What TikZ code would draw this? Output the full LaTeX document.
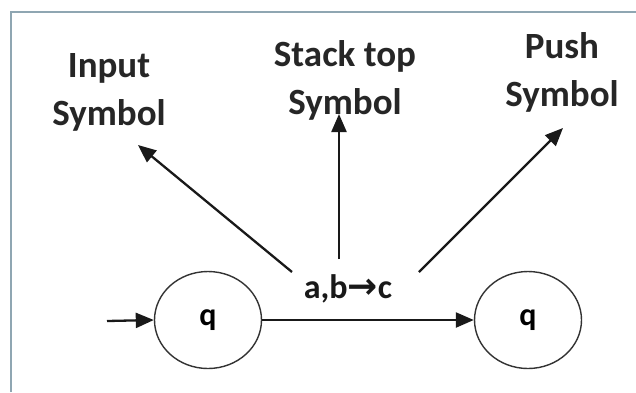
\documentclass[tikz,border=0pt]{standalone}
\usepackage{fontspec}
\setmainfont{Carlito}
\newfontfamily\arrowfont{DejaVu Sans}
\usetikzlibrary{arrows.meta,shapes.geometric}
\definecolor{framec}{HTML}{8FA6B2}
\begin{document}
\begin{tikzpicture}[x=1pt,y=-1pt,
  lbl/.style={font=\fontsize{37}{48}\selectfont\bfseries, align=center, text=black!85, inner sep=0pt},
  trans/.style={font=\fontsize{34}{36}\selectfont\bfseries, text=black!90, inner sep=0pt},
  state/.style={ellipse, draw=black!80, line width=1.4pt, minimum width=107pt, minimum height=97pt, inner sep=0pt, font=\fontsize{32}{34}\selectfont\bfseries},
  conn/.style={line width=2.3pt, black!90, -{Triangle[length=18pt,width=15pt]}}]
\useasboundingbox (0,0) rectangle (636,392);
\fill[white] (0,0) rectangle (636,392);
\draw[framec, line width=2.2pt] (11,392) -- (11,12) -- (636,12);
\node[state] (q1) at (208,320) {q};
\node[state] (q2) at (528,320) {q};
\coordinate (start) at (107,321);
\draw[conn] (start) -- (q1.west);
\draw[conn] (q1.east) -- (q2.west);
\node[trans] (lab) at (348,289) {a,b{\arrowfont\bfseries\fontsize{36}{36}\selectfont →}c};
\node[lbl] (in) at (109,92) {Input\\Symbol};
\node[lbl] (st) at (345,80) {Stack top\\Symbol};
\node[lbl] (pu) at (562,72) {Push\\Symbol};
\coordinate (inT) at (292,272);
\coordinate (inH) at (138,145);
\coordinate (stT) at (339,259);
\coordinate (stH) at (339,114);
\coordinate (puT) at (419,272);
\coordinate (puH) at (563,128);
\draw[conn] (inT) -- (inH);
\draw[conn] (stT) -- (stH);
\draw[conn] (puT) -- (puH);
\end{tikzpicture}
\end{document}
